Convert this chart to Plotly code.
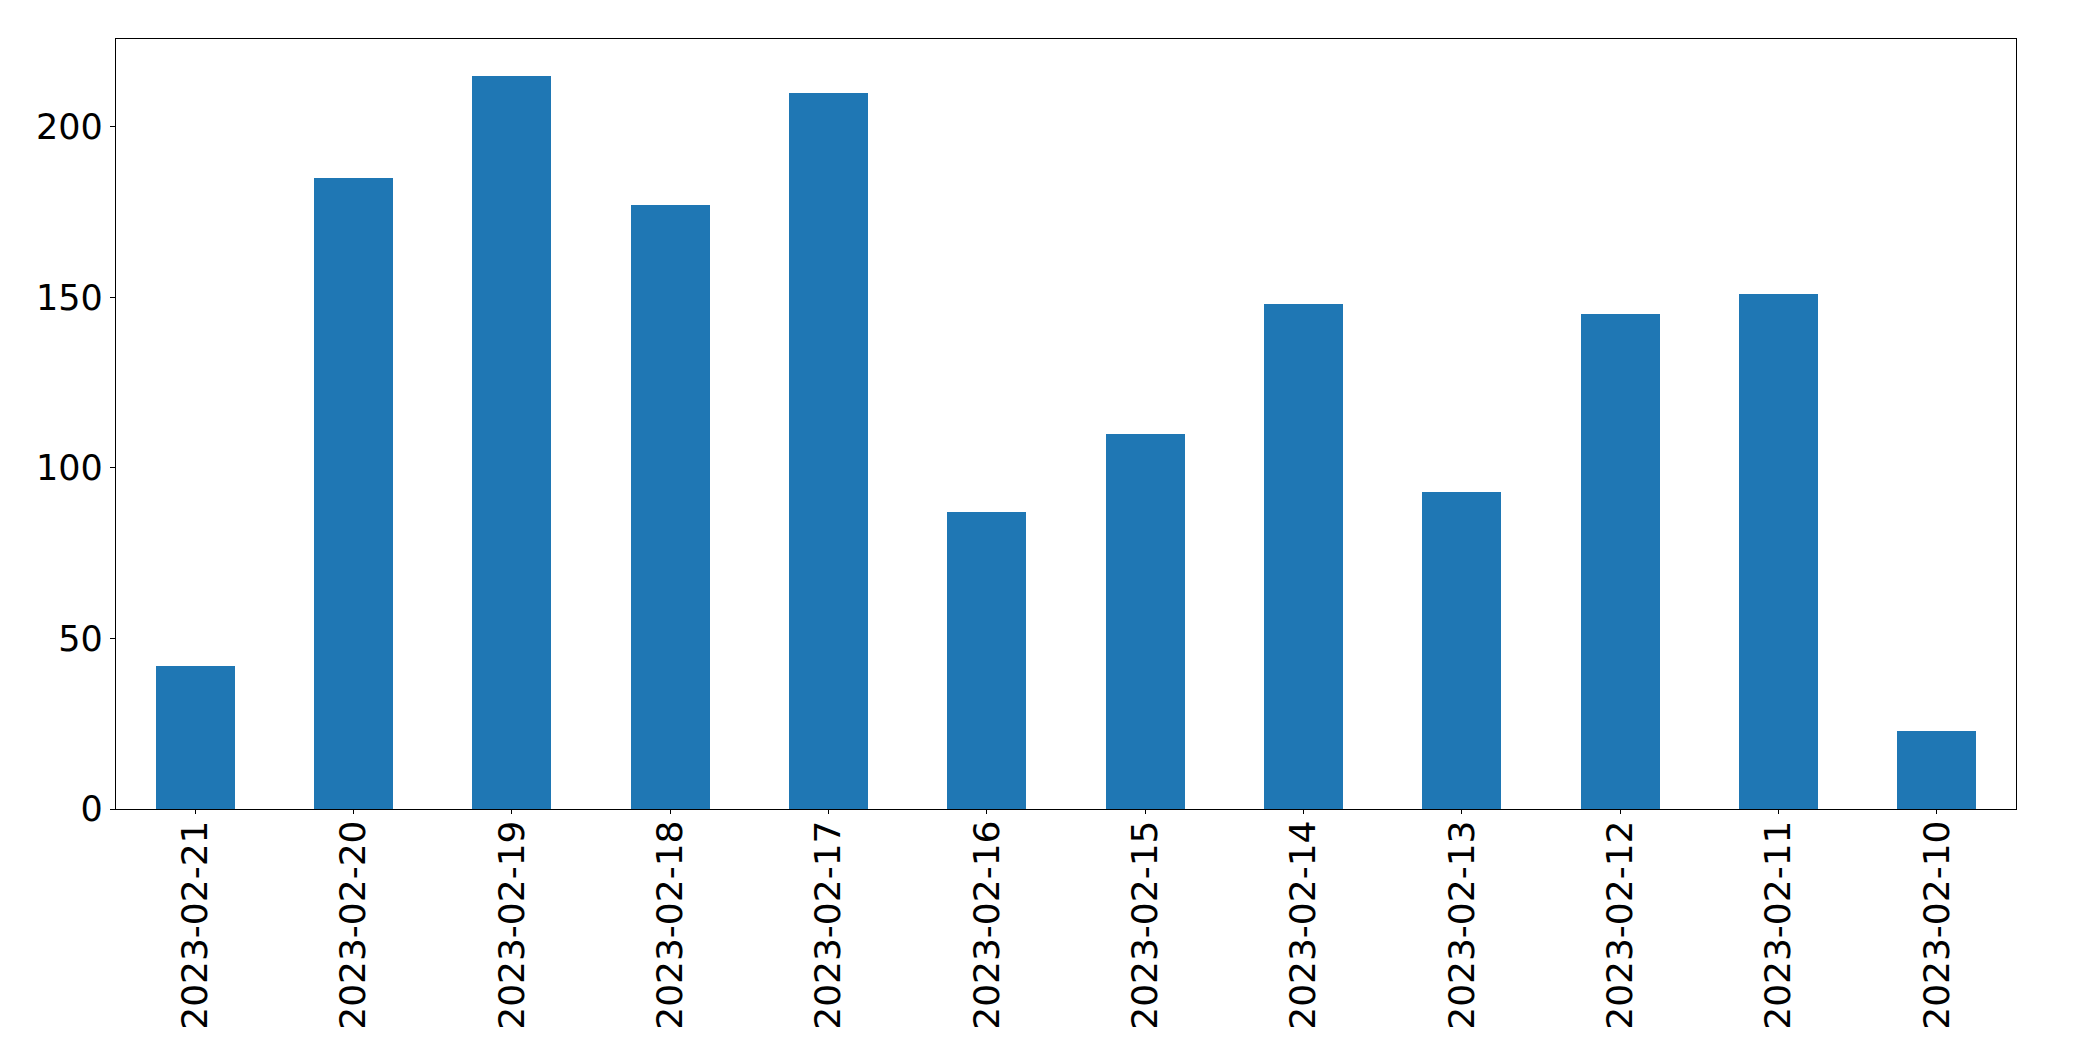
import plotly.graph_objects as go

dates = ["2023-02-21", "2023-02-20", "2023-02-19", "2023-02-18", "2023-02-17", "2023-02-16",
         "2023-02-15", "2023-02-14", "2023-02-13", "2023-02-12", "2023-02-11", "2023-02-10"]
counts = [42, 185, 215, 177, 210, 87, 110, 148, 93, 145, 151, 23]
y_ticks = [0, 50, 100, 150, 200]

fig = go.Figure()
fig.add_trace(go.Bar(
    x=list(range(len(dates))),
    y=counts,
    width=0.5,
    marker=dict(color="#1f77b4", line=dict(width=0)),
))

font_family = "DejaVu Sans"
fig.update_layout(
    width=2093, height=1061, autosize=False,
    margin=dict(l=108, r=85, t=31, b=260),
    plot_bgcolor="white", paper_bgcolor="white",
    showlegend=False,
    font=dict(family=font_family, size=35, color="black"),
    bargap=0,
)
fig.update_xaxes(
    range=[-0.5, len(dates) - 0.5],
    tickmode="array",
    tickvals=list(range(len(dates))),
    ticktext=dates,
    tickangle=-90,
    ticks="outside", ticklen=4, tickwidth=1.2, tickcolor="black",
    ticklabelstandoff=-8,
    showline=True, linecolor="black", linewidth=1.3, mirror=True,
    showgrid=False, zeroline=False,
    tickfont=dict(family=font_family, size=36, color="black"),
)
fig.update_yaxes(
    range=[0, max(counts) * 1.05],
    tickmode="array",
    tickvals=y_ticks,
    ticktext=[str(v) for v in y_ticks],
    ticks="outside", ticklen=5, tickwidth=1.2, tickcolor="black",
    showline=True, linecolor="black", linewidth=1.3, mirror=True,
    showgrid=False, zeroline=False,
    tickfont=dict(family=font_family, size=35, color="black"),
)

fig.write_html("out.html")
